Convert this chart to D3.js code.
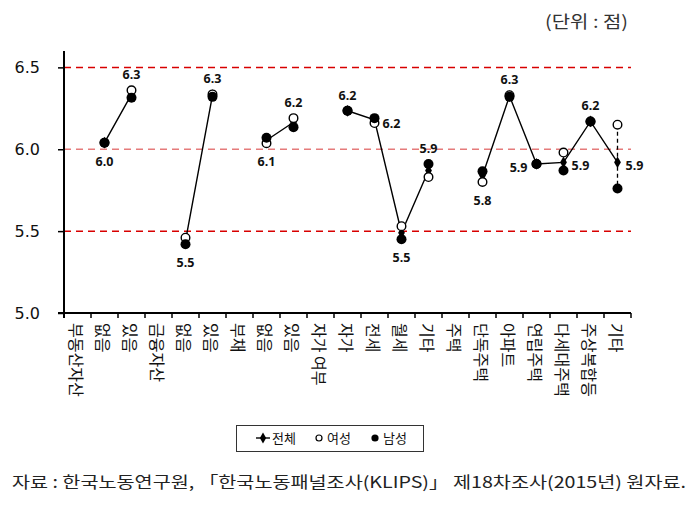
<!DOCTYPE html>
<html>
<head>
<meta charset="utf-8">
<script src="https://cdn.jsdelivr.net/npm/d3@7"></script>
<style>
  body { margin: 0; background: #fff; }
  svg { display: block; }
</style>
</head>
<body>
<svg id="chart" width="696" height="507"></svg>
<script>
const categories = ['부동산자산', '없음', '있음', '금융자산', '없음', '있음', '부채', '없음', '있음',
  '자가 여부', '자가', '전세', '월세', '기타', '주택', '단독주택', '아파트', '연립주택', '다세대주택', '주상복합등', '기타'];
const totalValues = [null, 6.04, 6.335, null, 5.44, 6.33, null, 6.055, 6.165, null,
  6.235, 6.18, 5.49, 5.87, null, 5.84, 6.325, 5.91, 5.92, 6.17, 5.92];
const femaleValues = [null, 6.04, 6.36, null, 5.46, 6.335, null, 6.037, 6.19, null,
  6.235, 6.16, 5.53, 5.83, null, 5.80, 6.33, 5.91, 5.98, 6.17, 6.15];
const maleValues = [null, 6.04, 6.315, null, 5.42, 6.32, null, 6.07, 6.135, null,
  6.235, 6.19, 5.45, 5.91, null, 5.865, 6.32, 5.91, 5.87, 6.17, 5.76];
const labelTexts = [null, '6.0', '6.3', null, '5.5', '6.3', null, '6.1', '6.2', null,
  '6.2', '6.2', '5.5', '5.9', null, '5.8', '6.3', '5.9', '5.9', '6.2', '5.9'];
const labelSides = [null, 'below', 'above', null, 'below', 'above', null, 'below', 'above', null,
  'above', 'right', 'below', 'above', null, 'below', 'above', 'left', 'right', 'above', 'right'];
const rangeLineIndexes = [20];
const yTicks = [5.0, 5.5, 6.0, 6.5];
const gridValues = [5.5, 6.0, 6.5];
const legendNames = ['전체', '여성', '남성'];
const unitText = '(단위 : 점)';
const sourceText = '자료 : 한국노동연구원, 「한국노동패널조사(KLIPS)」 제18차조사(2015년) 원자료.';

(() => {
  const svg = d3.select('#chart');
  const plot = { left: 64, right: 631, top: 51, bottom: 313 };
  const sans = 'DejaVu Sans, sans-serif';
  const kr = "'Noto Sans CJK KR', sans-serif";

  const x = d3.scaleBand().domain(d3.range(categories.length)).range([plot.left, plot.right]);
  const y = d3.scaleLinear().domain([5.0, 6.6]).range([plot.bottom, plot.top]);
  const cx = (i) => x(i) + x.bandwidth() / 2;

  // red dashed reference lines
  svg.append('g')
    .selectAll('line')
    .data(gridValues)
    .join('line')
    .attr('x1', plot.left)
    .attr('x2', plot.right)
    .attr('y1', (d) => y(d))
    .attr('y2', (d) => y(d))
    .attr('stroke', (d) => (d === 6.0 ? '#e57b7b' : '#d80000'))
    .attr('stroke-width', 1.5)
    .attr('stroke-dasharray', '7,5');

  // y axis
  const yAxis = svg.append('g')
    .attr('transform', `translate(${plot.left},0)`)
    .call(d3.axisLeft(y).tickValues(yTicks).tickFormat(d3.format('.1f')).tickSize(6).tickPadding(18));
  yAxis.select('.domain').attr('d', `M0,${plot.top}V${plot.bottom + 5}`).attr('stroke-width', 2);
  yAxis.selectAll('.tick line').attr('stroke-width', 1.5);
  yAxis.selectAll('.tick text').attr('font-family', sans).attr('font-size', 16).attr('fill', '#111');

  // x axis
  const xAxis = svg.append('g').attr('transform', `translate(0,${plot.bottom})`);
  xAxis.append('line')
    .attr('x1', plot.left - 6)
    .attr('x2', plot.right)
    .attr('stroke', '#000')
    .attr('stroke-width', 2);
  xAxis.selectAll('line.tick')
    .data(d3.range(categories.length))
    .join('line')
    .attr('class', 'tick')
    .attr('x1', (i) => x(i) + x.bandwidth())
    .attr('x2', (i) => x(i) + x.bandwidth())
    .attr('y1', 0)
    .attr('y2', 5)
    .attr('stroke', '#000')
    .attr('stroke-width', 1.5);
  xAxis.selectAll('text')
    .data(categories)
    .join('text')
    .attr('transform', (d, i) => `translate(${cx(i) - 1},10) rotate(90)`)
    .attr('dominant-baseline', 'central')
    .attr('font-family', kr)
    .attr('font-size', 16)
    .attr('fill', '#111')
    .text((d) => d);

  // high-low dashed line
  svg.append('g')
    .selectAll('line')
    .data(rangeLineIndexes)
    .join('line')
    .attr('x1', (i) => cx(i))
    .attr('x2', (i) => cx(i))
    .attr('y1', (i) => y(femaleValues[i]))
    .attr('y2', (i) => y(maleValues[i]))
    .attr('stroke', '#000')
    .attr('stroke-width', 1.3)
    .attr('stroke-dasharray', '4,3');

  // total line
  const line = d3.line()
    .defined((d) => d != null)
    .x((d, i) => cx(i))
    .y((d) => y(d));
  svg.append('path')
    .datum(totalValues)
    .attr('d', line)
    .attr('fill', 'none')
    .attr('stroke', '#000')
    .attr('stroke-width', 1.4);

  const diamond = d3.symbol().type(d3.symbolDiamond).size(40);
  const points = (values) => values.map((v, i) => ({ v, i })).filter((d) => d.v != null);

  svg.append('g')
    .selectAll('path')
    .data(points(totalValues))
    .join('path')
    .attr('d', diamond)
    .attr('transform', (d) => `translate(${cx(d.i)},${y(d.v)})`)
    .attr('fill', '#000');

  svg.append('g')
    .selectAll('circle')
    .data(points(femaleValues))
    .join('circle')
    .attr('cx', (d) => cx(d.i))
    .attr('cy', (d) => y(d.v))
    .attr('r', 4.3)
    .attr('fill', '#fff')
    .attr('stroke', '#000')
    .attr('stroke-width', 1.4);

  svg.append('g')
    .selectAll('circle')
    .data(points(maleValues))
    .join('circle')
    .attr('cx', (d) => cx(d.i))
    .attr('cy', (d) => y(d.v))
    .attr('r', 5)
    .attr('fill', '#000');

  // value labels
  const labelData = labelTexts
    .map((t, i) => ({ t, i, side: labelSides[i] }))
    .filter((d) => d.t != null);
  svg.append('g')
    .selectAll('text')
    .data(labelData)
    .join('text')
    .attr('font-family', "'Noto Sans', sans-serif")
    .attr('font-weight', 'bold')
    .attr('font-size', 12.5)
    .attr('fill', '#111')
    .attr('text-anchor', (d) => (d.side === 'right' ? 'start' : d.side === 'left' ? 'end' : 'middle'))
    .attr('x', (d) => {
      if (d.side === 'right') return cx(d.i) + 8;
      if (d.side === 'left') return cx(d.i) - 9;
      return cx(d.i);
    })
    .attr('y', (d) => {
      const vals = [totalValues[d.i], femaleValues[d.i], maleValues[d.i]];
      const hi = y(d3.max(vals));
      const lo = y(d3.min(vals));
      if (d.side === 'above') return hi - 11;
      if (d.side === 'below') return lo + 23;
      return y(totalValues[d.i]) + 8;
    })
    .text((d) => d.t);

  // legend
  const legend = svg.append('g');
  legend.append('rect')
    .attr('x', 236.5)
    .attr('y', 425.5)
    .attr('width', 187)
    .attr('height', 26)
    .attr('fill', '#fff')
    .attr('stroke', '#333')
    .attr('stroke-width', 1);
  const legendX = [263, 319, 375];
  const legendY = 438;
  legend.append('line')
    .attr('x1', legendX[0] - 7).attr('x2', legendX[0] + 7)
    .attr('y1', legendY).attr('y2', legendY)
    .attr('stroke', '#000').attr('stroke-width', 1.4);
  legend.append('path')
    .attr('d', d3.symbol().type(d3.symbolDiamond).size(34))
    .attr('transform', `translate(${legendX[0]},${legendY})`);
  legend.append('circle')
    .attr('cx', legendX[1]).attr('cy', legendY).attr('r', 3)
    .attr('fill', '#fff').attr('stroke', '#000').attr('stroke-width', 1.2);
  legend.append('circle')
    .attr('cx', legendX[2]).attr('cy', legendY).attr('r', 3.6)
    .attr('fill', '#000');
  legend.selectAll('text')
    .data(legendNames)
    .join('text')
    .attr('x', (d, i) => legendX[i] + (i === 0 ? 9 : 8))
    .attr('y', legendY + 5)
    .attr('font-family', kr)
    .attr('font-size', 13)
    .attr('fill', '#111')
    .text((d) => d);

  // unit and source
  svg.append('text')
    .attr('x', 545)
    .attr('y', 28)
    .attr('font-family', kr)
    .attr('font-size', 17)
    .attr('textLength', 83)
    .attr('lengthAdjust', 'spacingAndGlyphs')
    .attr('fill', '#333')
    .text(unitText);

  svg.append('text')
    .attr('x', 12)
    .attr('y', 488)
    .attr('font-family', kr)
    .attr('font-size', 16)
    .attr('textLength', 674)
    .attr('lengthAdjust', 'spacingAndGlyphs')
    .attr('fill', '#222')
    .text(sourceText);
})();
</script>
</body>
</html>
